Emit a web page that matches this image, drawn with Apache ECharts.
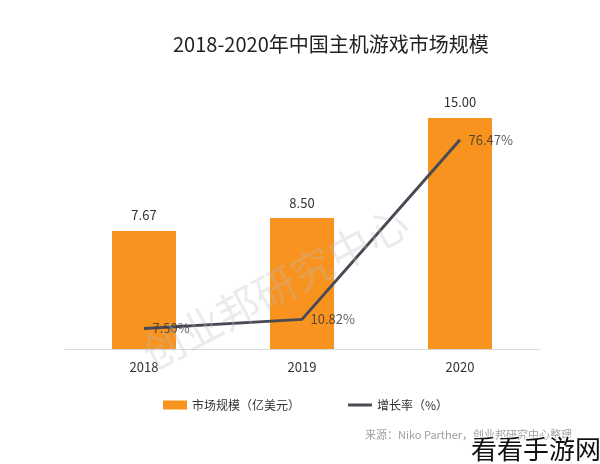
<!DOCTYPE html>
<html>
<head>
<meta charset="utf-8">
<script src="https://cdn.jsdelivr.net/npm/echarts@6/dist/echarts.min.js"></script>
<style>html,body{margin:0;padding:0;background:#fff;}#c{width:600px;height:464px;}</style>
</head>
<body>
<div id="c"></div>
<script>
const categories = ['2018', '2019', '2020'];
const marketSize = [7.67, 8.50, 15.00];
const growthRate = [7.50, 10.82, 76.47];
const titleText = '2018-2020年中国主机游戏市场规模';
const seriesNames = ['市场规模（亿美元）', '增长率（%）'];
const sourceText = '来源：Niko Parther，创业邦研究中心整理';
const watermarkText = '创业邦研究中心';
const logoText = '看看手游网';

const font = '"Noto Sans CJK SC", "Noto Sans", sans-serif';
const chart = echarts.init(document.getElementById('c'), null, {renderer: 'canvas'});
chart.setOption({
  backgroundColor: '#fff',
  textStyle: {fontFamily: font},
  title: {
    text: titleText, left: 168, top: 29,
    textStyle: {fontSize: 20, fontWeight: 'normal', color: '#222', fontFamily: font}
  },
  grid: {left: 65, right: 61, top: 102.6, bottom: 115, containLabel: false},
  legend: {
    left: 158, top: 394, itemWidth: 24, itemHeight: 9, itemGap: 48, symbolKeepAspect: true,
    textStyle: {fontSize: 12, color: '#333', fontFamily: font},
    data: [
      {name: seriesNames[0], icon: 'rect'},
      {name: seriesNames[1], icon: 'path://M0,0 L24,0 L24,3 L0,3 Z', itemStyle: {color: '#4A4A55'}}
    ]
  },
  xAxis: {
    type: 'category', data: categories,
    axisLine: {lineStyle: {color: '#d9d9d9', width: 1}},
    axisTick: {show: false},
    axisLabel: {fontSize: 13, color: '#333', margin: 12, fontFamily: font}
  },
  yAxis: [
    {type: 'value', min: 0, max: 16, show: false, splitLine: {show: false}},
    {type: 'value', min: 0, max: 90, show: false, splitLine: {show: false}}
  ],
  series: [
    {
      name: seriesNames[0], type: 'bar', data: marketSize, barWidth: 64,
      itemStyle: {color: '#F8931F'},
      label: {show: true, position: 'top', distance: 9, fontSize: 13, color: '#333',
        formatter: p => p.value.toFixed(2), fontFamily: font}
    },
    {
      name: seriesNames[1], type: 'line', yAxisIndex: 1, data: growthRate,
      symbol: 'none', lineStyle: {color: '#4A4A55', width: 3}, itemStyle: {color: '#4A4A55'}
    },
    {
      name: 'rateLabels', type: 'scatter', yAxisIndex: 1, data: growthRate,
      symbolSize: 1, itemStyle: {color: 'rgba(0,0,0,0)'}, silent: true, z: 5,
      label: {show: true, position: 'right', distance: 8, fontSize: 13, color: '#333',
        formatter: p => p.value.toFixed(2) + '%', fontFamily: font}
    }
  ],
  graphic: [
    {type: 'text', left: 365, top: 429, z: 5,
      style: {text: sourceText, fontSize: 11, fill: '#a0a0a0', fontFamily: font}},
    {type: 'text', x: 275, y: 288, rotation: 28 * Math.PI / 180, z: 20, silent: true,
      style: {text: watermarkText, fontSize: 42, fontWeight: 'normal', fill: 'rgba(190,190,190,0.3)',
        align: 'center', verticalAlign: 'middle', fontFamily: font}},
    {type: 'text', left: 470, top: 435, z: 30,
      style: {text: logoText, fontSize: 26, fill: '#111', fontFamily: font, stroke: '#fff', lineWidth: 2}}
  ]
});
</script>
</body>
</html>
